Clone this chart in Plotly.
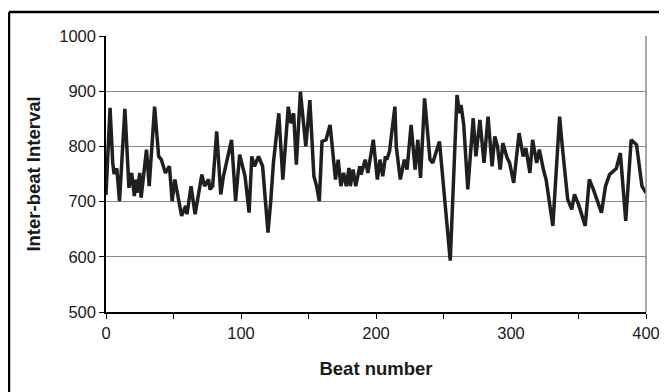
import plotly.graph_objects as go

beats = [0, 3, 5, 6, 8, 10, 14, 16, 17, 19, 21, 22, 23, 25, 26, 30, 32, 36, 39, 41, 44, 47, 49,
         51, 56, 59, 60, 63, 66, 71, 73, 76, 77, 79, 82, 85, 87, 93, 96, 99,
         101, 103, 106, 108, 110, 113, 116, 120, 122, 124, 128, 131, 135, 137, 139, 141, 144, 148,
         151, 154, 156, 158, 160, 163, 166, 168, 170, 172, 174, 176, 178, 180, 181, 183, 185, 188,
         189, 192, 194, 198, 199,
         201, 203, 205, 207, 208, 210, 214, 215, 218, 221, 223, 226, 229, 231, 233, 236, 240, 242,
         247, 255, 260, 262, 263, 265, 268, 272, 274, 277, 280, 283, 286, 288, 290, 292, 294, 297,
         299,
         302, 306, 309, 311, 314, 316, 319, 321, 324, 326, 331, 336, 338, 342, 345, 347, 350, 355,
         358, 361, 367, 370, 373, 376, 378, 381, 385, 389, 393, 397, 400]
intervals = [712, 870, 770, 750, 760, 701, 868, 758, 725, 752, 710, 740, 716, 752, 707, 794, 728,
             872, 782, 776, 752, 764, 701,
             740, 674, 692, 677, 728, 677, 749, 728, 740, 722, 728, 827, 713, 746, 812, 701, 785,
             764, 746, 680, 782, 764, 782, 764, 644, 700, 770, 860, 740, 872, 842, 860, 767, 899, 800,
             884, 746, 728, 701, 809, 812, 839, 782, 740, 776, 728, 752, 728, 761, 728, 758, 728, 764,
             749, 776, 752, 812, 790,
             740, 776, 746, 782, 776, 791, 872, 800, 740, 776, 758, 839, 758, 812, 743, 887, 776, 770,
             809, 593, 893, 860, 875, 839, 722, 851, 782, 848, 770, 854, 764, 818, 800, 758, 806, 780,
             770,
             734, 824, 782, 797, 752, 812, 770, 794, 758, 740, 656, 854, 800, 704, 686, 713, 695, 656,
             740, 722, 680, 728, 749, 755, 760, 788, 665, 812, 803, 728, 716]

x_tickvals = [0, 50, 100, 150, 200, 250, 300, 350, 400]
x_ticktext = ["0", "", "100", "", "200", "", "300", "", "400"]
y_tickvals = [500, 600, 700, 800, 900, 1000]

# page body has an 8px margin, so the figure is sized to fit the rest of the window
W, H = 669, 384
L, R, T, B = 98, 31, 28, 80
pw, ph = W - L - R, H - T - B

fig = go.Figure(go.Scatter(x=beats, y=intervals, mode="lines",
                           line=dict(color="#1f1f1f", width=3.5), hoverinfo="skip"))

font = "Liberation Sans, Arial, sans-serif"
fig.update_layout(
    width=W, height=H, margin=dict(l=L, r=R, t=T, b=B, autoexpand=False),
    paper_bgcolor="white", plot_bgcolor="white", showlegend=False,
    font=dict(family=font, size=16.5, color="#1a1a1a"),
    xaxis=dict(range=[0, 400], tickvals=x_tickvals, ticktext=x_ticktext, automargin=False,
               showgrid=False, zeroline=False, showline=True, linecolor="black", linewidth=1.5,
               ticks="outside", ticklen=5, tickcolor="black", tickwidth=1.2,
               title=dict(text="<b>Beat number</b>", font=dict(size=18.5), standoff=22)),
    yaxis=dict(range=[500, 1000], tickvals=y_tickvals, automargin=False,
               showgrid=True, gridcolor="#8a8a8a", gridwidth=1.3, zeroline=False,
               showline=True, linecolor="black", linewidth=1.5,
               ticks="outside", ticklen=5, tickcolor="black", tickwidth=1.2,
               title=dict(text="<b>Inter-beat Interval</b>", font=dict(size=18.5), standoff=14)),
    shapes=[
        dict(type="line", xref="paper", yref="paper", x0=1, x1=1, y0=0, y1=1,
             line=dict(color="#8a8a8a", width=1.5)),
        dict(type="line", xref="paper", yref="paper",
             x0=(1 - L) / pw, x1=(1 - L) / pw, y0=1 + (T - 4) / ph, y1=-(B + 20) / ph,
             line=dict(color="black", width=2.5)),
        dict(type="line", xref="paper", yref="paper",
             x0=(1 - L) / pw, x1=(W + 10 - L) / pw, y0=1 + (T - 4) / ph, y1=1 + (T - 4) / ph,
             line=dict(color="black", width=2.5)),
    ],
)

fig.write_html("out.html")
